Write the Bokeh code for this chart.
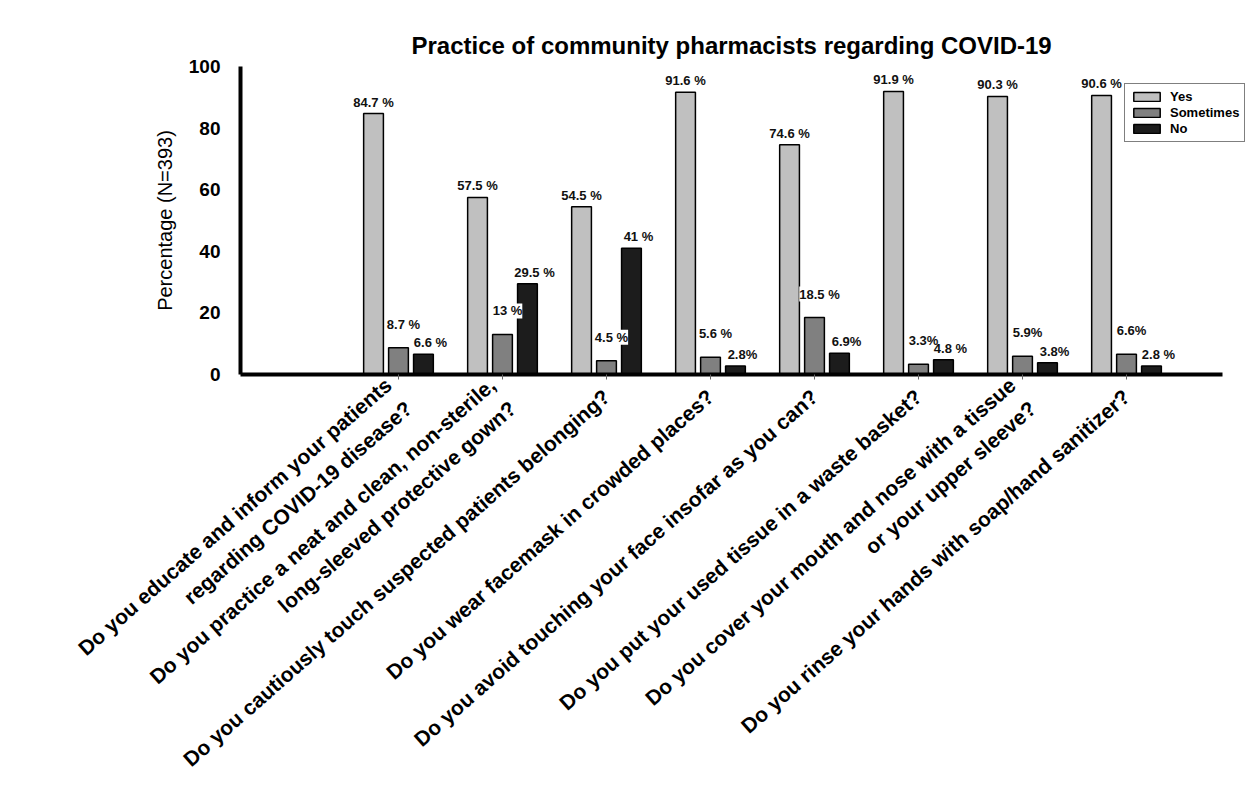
from bokeh.plotting import figure
from bokeh.models import Range1d, FixedTicker, Legend, LegendItem
from bokeh.embed import file_html
from bokeh.resources import INLINE
from bokeh.core.properties import value

questions = [
    "Do you educate and inform your patients\nregarding COVID-19 disease?",
    "Do you practice a neat and clean, non-sterile,\nlong-sleeved protective gown?",
    "Do you cautiously touch suspected patients belonging?",
    "Do you wear facemask in crowded places?",
    "Do you avoid touching your face insofar as you can?",
    "Do you put your used tissue in a waste basket?",
    "Do you cover your mouth and nose with a tissue\nor your upper sleeve?",
    "Do you rinse your hands with soap/hand sanitizer?",
]
yes = [84.7, 57.5, 54.5, 91.6, 74.6, 91.9, 90.3, 90.6]
sometimes = [8.7, 13, 4.5, 5.6, 18.5, 3.3, 5.9, 6.6]
no = [6.6, 29.5, 41, 2.8, 6.9, 4.8, 3.8, 2.8]
yes_labels = ["84.7 %", "57.5 %", "54.5 %", "91.6 %", "74.6 %", "91.9 %", "90.3 %", "90.6 %"]
sometimes_labels = ["8.7 %", "13 %", "4.5 %", "5.6 %", "18.5 %", "3.3%", "5.9%", "6.6%"]
no_labels = ["6.6 %", "29.5 %", "41 %", "2.8%", "6.9%", "4.8 %", "3.8%", "2.8 %"]
y_ticks = [0, 20, 40, 60, 80, 100]

FONT = "Liberation Sans"
idx = list(range(len(questions)))
off = 0.24
bw = 0.19

p = figure(width=1245, height=782, output_backend="svg", toolbar_location=None,
           x_range=Range1d(-1.519, 8.144), y_range=Range1d(0, 100),
           min_border_left=240, min_border_right=0, min_border_top=66, min_border_bottom=408)
p.outline_line_color = None
p.grid.visible = False

p.title.text = "Practice of community pharmacists regarding COVID-19"
p.title.align = "left"
p.title.offset = 171
p.title.standoff = 15
p.title.text_font = FONT
p.title.text_font_size = "24px"
p.title.text_font_style = "bold"
p.title.text_color = "black"

r_yes = p.vbar(x=[i - off for i in idx], top=yes, width=bw, fill_color="#c0c0c0",
               line_color="black", line_width=1.5)
r_som = p.vbar(x=idx, top=sometimes, width=bw, fill_color="#808080",
               line_color="black", line_width=1.5)
r_no = p.vbar(x=[i + off for i in idx], top=no, width=bw, fill_color="#1c1c1c",
              line_color="black", line_width=1.5)

for xs, vals, labs, dx, dy, bg in [([i - off for i in idx], yes, yes_labels, 0, -4, None),
                                   (idx, sometimes, sometimes_labels, 5, -16, "white"),
                                   ([i + off for i in idx], no, no_labels, 7, -4, None)]:
    p.text(x=xs, y=vals, text=labs, text_align="center", text_baseline="bottom",
           x_offset=dx, y_offset=dy, text_font=value(FONT), text_font_style="bold",
           text_font_size="13px", text_color="#111111", background_fill_color=bg)

xa = p.xaxis[0]
xa.ticker = FixedTicker(ticks=idx)
xa.bounds = (-1.519, 7.92)
xa.major_label_overrides = {i: q for i, q in zip(idx, questions)}
xa.major_label_orientation = 0.72
xa.major_label_text_font = FONT
xa.major_label_text_font_size = "21px"
xa.major_label_text_font_style = "bold"
xa.major_label_text_color = "black"
xa.major_label_text_line_height = 1.35
xa.major_label_standoff = 14
xa.axis_line_width = 4
xa.major_tick_in = 0
xa.major_tick_out = 5
xa.major_tick_line_width = 1
xa.major_tick_line_color = "#666666"
xa.minor_tick_line_color = None

ya = p.yaxis[0]
ya.ticker = FixedTicker(ticks=y_ticks)
ya.axis_line_width = 4
ya.major_tick_line_color = None
ya.minor_tick_line_color = None
ya.major_label_text_font = FONT
ya.major_label_text_font_size = "19px"
ya.major_label_text_font_style = "bold"
ya.major_label_text_color = "black"
ya.major_label_standoff = 14
ya.axis_label = "Percentage (N=393)"
ya.axis_label_text_font = FONT
ya.axis_label_text_font_size = "20px"
ya.axis_label_text_font_style = "normal"
ya.axis_label_text_color = "black"
ya.axis_label_standoff = 10

legend = Legend(items=[LegendItem(label="Yes", renderers=[r_yes]),
                       LegendItem(label="Sometimes", renderers=[r_som]),
                       LegendItem(label="No", renderers=[r_no])],
                location=(884, 232))
legend.border_line_color = "black"
legend.border_line_width = 1.5
legend.label_text_font = FONT
legend.label_text_font_size = "13px"
legend.label_text_font_style = "bold"
legend.label_text_color = "black"
legend.glyph_width = 33
legend.glyph_height = 11
legend.label_height = 13
legend.spacing = 1
legend.padding = 5
legend.margin = 0
legend.label_standoff = 7
p.add_layout(legend)

open("out.html", "w").write(file_html(p, INLINE))
